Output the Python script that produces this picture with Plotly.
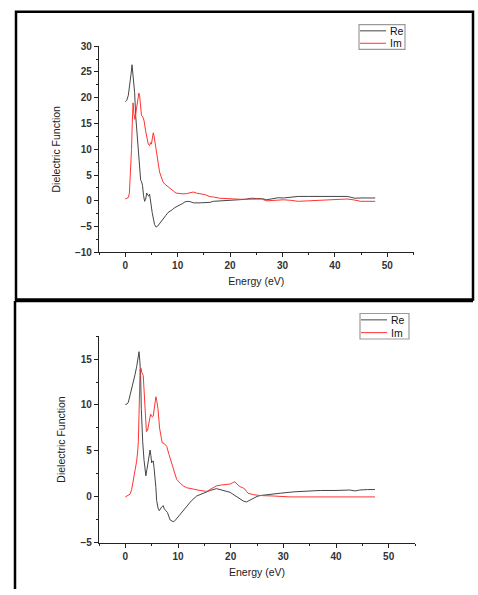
import plotly.graph_objects as go

# ---------------- data ----------------
top_re_e = [0.0, 0.3, 0.6, 0.9, 1.1, 1.3, 1.45, 1.6, 1.8, 2.0, 2.1, 2.3, 2.55, 2.75, 2.95, 3.1, 3.3, 3.5, 3.7, 3.9,
            4.1, 4.3, 4.5, 4.65, 4.8, 5.0, 5.15, 5.4, 5.6, 5.9, 6.2, 6.5, 6.9, 7.3, 7.7, 8.15, 8.5, 9.0, 9.5, 10.0,
            10.4, 11.0, 11.4, 12.0, 12.5, 13.0, 14.3, 15.5, 16.2, 16.8, 18.0, 18.7, 20.0, 21.6, 23.0, 24.1, 25.0,
            25.7, 26.2, 27.0, 28.0, 29.2, 30.2, 31.5, 33.0, 35.0, 37.0, 38.4, 40.0, 42.3, 43.0, 43.8, 45.0, 46.5, 47.7]
top_re_v = [19.2, 19.5, 20.5, 22.5, 24.5, 26.4, 25.0, 22.5, 21.0, 16.5, 15.1, 13.5, 10.4, 6.5, 4.0, 3.8, 3.0, 1.0, -0.1, 0.3,
            1.5, 1.1, 0.9, 1.3, 0.5, -1.2, -2.3, -3.8, -4.6, -5.1, -4.9, -4.5, -3.9, -3.5, -2.9, -2.3, -2.1, -1.7, -1.3, -1.05,
            -0.9, -0.5, -0.2, -0.1, -0.2, -0.4, -0.4, -0.35, -0.3, -0.1, 0.0, 0.1, 0.2, 0.2, 0.3, 0.5, 0.45,
            0.5, 0.4, 0.2, 0.35, 0.6, 0.55, 0.7, 0.85, 0.85, 0.85, 0.9, 0.85, 0.85, 0.7, 0.5, 0.55, 0.55, 0.55]

top_im_e = [0.0, 0.3, 0.6, 0.8, 1.0, 1.2, 1.35, 1.5, 1.65, 1.85, 2.1, 2.35, 2.6, 2.75, 2.9, 3.1, 3.4, 3.6, 3.9, 4.2,
            4.4, 4.65, 4.85, 5.0, 5.15, 5.35, 5.5, 5.7, 5.9, 6.1, 6.3, 6.55, 6.9, 7.2, 7.6, 8.15, 8.6, 9.2, 9.7, 10.4,
            11.0, 11.7, 12.3, 13.0, 13.6, 14.3, 15.2, 16.2, 16.8, 18.0, 19.3, 20.5, 21.9, 23.5, 25.4, 26.0, 27.0,
            28.5, 30.2, 31.5, 33.0, 35.0, 38.0, 40.5, 42.3, 43.5, 44.9, 47.7]
top_im_v = [0.35, 0.5, 0.65, 1.5, 5.0, 10.0, 15.0, 19.0, 17.0, 15.8, 17.5, 19.5, 20.9, 20.5, 18.6, 16.6, 16.2, 15.5, 13.5, 11.7,
            11.0, 10.7, 11.3, 11.0, 12.0, 13.2, 12.6, 11.0, 10.0, 8.5, 7.3, 5.6, 4.4, 3.7, 3.2, 2.7, 2.3, 1.9, 1.5, 1.4,
            1.35, 1.4, 1.5, 1.7, 1.5, 1.4, 1.2, 0.8, 0.75, 0.5, 0.4, 0.3, 0.3, 0.3, 0.35, 0.35, 0.0,
            0.1, 0.2, 0.1, -0.1, 0.0, 0.1, 0.2, 0.35, 0.2, -0.1, -0.1]

bot_re_e = [0.0, 0.3, 0.57, 0.9, 1.2, 1.5, 1.84, 2.16, 2.4, 2.6, 2.75, 2.9, 3.04, 3.2, 3.3, 3.55, 3.75, 3.9, 4.1, 4.35,
            4.55, 4.7, 4.85, 5.0, 5.15, 5.3, 5.45, 5.6, 5.8, 5.95, 6.2, 6.45, 6.7, 6.9, 7.2, 7.4, 7.7, 8.0, 8.5, 8.8,
            9.1, 9.4, 9.75, 10.3, 11.0, 11.65, 12.5, 13.55, 14.5, 16.1, 17.3, 18.0, 18.6, 19.2, 19.9, 20.4, 20.8,
            21.3, 21.8, 22.4, 23.0, 23.5, 24.0, 25.0, 25.6, 27.5, 29.4, 32.0, 34.4, 37.0, 40.0, 42.6, 43.6, 44.5,
            46.0, 47.4]
bot_re_v = [10.05, 10.1, 10.3, 11.0, 11.7, 12.5, 13.3, 14.2, 15.0, 15.8, 14.8, 13.2, 9.5, 7.0, 6.0, 4.0, 2.8, 2.3, 3.0, 4.1,
            4.9, 5.1, 4.5, 3.7, 3.9, 3.9, 3.2, 2.5, 1.0, -0.4, -1.2, -1.5, -1.2, -1.1, -0.95, -1.3, -1.5, -1.7, -2.5, -2.6,
            -2.7, -2.6, -2.35, -1.9, -1.4, -0.95, -0.45, 0.1, 0.35, 0.7, 0.9, 0.8, 0.7, 0.6, 0.5, 0.3, 0.15,
            -0.1, -0.25, -0.45, -0.55, -0.4, -0.2, 0.05, 0.15, 0.3, 0.4, 0.55, 0.65, 0.7, 0.7, 0.75, 0.65, 0.75,
            0.8, 0.8]

bot_im_e = [0.0, 0.5, 0.9, 1.2, 1.52, 1.85, 2.15, 2.35, 2.47, 2.6, 2.7, 2.8, 3.0, 3.1, 3.4, 3.55, 3.7, 3.85, 4.0, 4.2,
            4.4, 4.6, 4.8, 4.95, 5.1, 5.3, 5.5, 5.8, 5.95, 6.2, 6.5, 6.8, 7.0, 7.4, 7.85, 8.3, 8.8, 9.2, 9.75, 10.4,
            11.0, 11.65, 12.8, 14.2, 15.45, 16.3, 17.3, 18.3, 19.1, 19.9, 20.4, 20.8, 21.2, 21.5, 21.8, 22.3, 22.7,
            23.0, 23.3, 24.3, 25.6, 28.0, 31.3, 35.0, 40.0, 44.0, 47.4]
bot_im_v = [0.0, 0.15, 0.3, 0.8, 1.75, 2.8, 3.9, 5.0, 6.0, 9.0, 12.0, 13.9, 14.0, 13.6, 13.2, 11.5, 9.6, 8.0, 7.1, 7.2,
            7.8, 8.5, 9.0, 8.9, 8.7, 8.8, 9.8, 10.9, 10.5, 9.6, 7.5, 6.5, 5.9, 5.8, 5.5, 4.6, 3.7, 2.8, 1.9, 1.5,
            1.2, 1.0, 0.85, 0.7, 0.6, 0.9, 1.2, 1.3, 1.35, 1.4, 1.55, 1.65, 1.4, 1.2, 1.1, 1.0, 0.85,
            0.6, 0.4, 0.25, 0.15, 0.1, 0.0, 0.0, 0.0, 0.0, 0.0]

x_range = [-5, 55]
top_y_range = [-10, 30]
bot_y_range = [-5, 17.5]
x_title = "Energy (eV)"
y_title = "Dielectric Function"
names = ["Re", "Im"]

# ---------------- figure ----------------
W, H = 478, 595
RE_COLOR = "#454545"
IM_COLOR = "#ff3333"
colors = [RE_COLOR, IM_COLOR]
FONT = "Liberation Sans, Arial, sans-serif"

fig = go.Figure()
fig.add_trace(go.Scatter(x=top_re_e, y=top_re_v, mode="lines", name=names[0],
                         line=dict(color=RE_COLOR, width=1), xaxis="x", yaxis="y"))
fig.add_trace(go.Scatter(x=top_im_e, y=top_im_v, mode="lines", name=names[1],
                         line=dict(color=IM_COLOR, width=1), xaxis="x", yaxis="y"))
fig.add_trace(go.Scatter(x=bot_re_e, y=bot_re_v, mode="lines", name=names[0],
                         line=dict(color=RE_COLOR, width=1), xaxis="x2", yaxis="y2"))
fig.add_trace(go.Scatter(x=bot_im_e, y=bot_im_v, mode="lines", name=names[1],
                         line=dict(color=IM_COLOR, width=1), xaxis="x2", yaxis="y2"))

def px_x(p):
    return p / W

def px_y(p):
    return 1 - p / H

tickfont = dict(family=FONT, size=10, color="#333333", weight="bold")
titlefont = dict(family=FONT, size=10.5, color="#222222")

def xaxis(domain, anchor):
    return dict(domain=domain, anchor=anchor, range=x_range, showgrid=False, zeroline=False,
                showline=True, linecolor="#222222", linewidth=1.2, ticks="outside", ticklen=4,
                tickcolor="#222222", tickwidth=1, dtick=10, tick0=0, tickfont=tickfont,
                minor=dict(ticks="outside", ticklen=2, dtick=5, tickcolor="#222222"),
                title=dict(text=x_title, font=titlefont, standoff=7))

def yaxis(domain, anchor, rng, dtick):
    return dict(domain=domain, anchor=anchor, range=rng, showgrid=False, zeroline=False,
                showline=True, linecolor="#222222", linewidth=1.2, ticks="outside", ticklen=4,
                tickcolor="#222222", tickwidth=1, dtick=dtick, tick0=0, tickfont=tickfont,
                minor=dict(ticks="outside", ticklen=2, dtick=dtick / 2, tickcolor="#222222"),
                title=dict(text=y_title, font=titlefont, standoff=12))

fig.update_layout(
    width=W, height=H, margin=dict(l=0, r=0, t=0, b=0),
    paper_bgcolor="white", plot_bgcolor="white",
    xaxis=xaxis([px_x(99), px_x(413.5)], "y"),
    yaxis=yaxis([px_y(252), px_y(42)], "x", top_y_range, 5),
    xaxis2=xaxis([px_x(99), px_x(415)], "y2"),
    yaxis2=yaxis([px_y(548), px_y(337.3)], "x2", bot_y_range, 5),
    showlegend=False,
)

# compact legends (boxes in pixel positions of each panel)
legend_boxes = [(359, 20, 405, 45.3), (360, 314.3, 409, 340.3)]
for (bx0, by0, bx1, by1) in legend_boxes:
    fig.add_shape(type="rect", xref="paper", yref="paper",
                  x0=px_x(bx0), x1=px_x(bx1), y0=px_y(by1), y1=px_y(by0),
                  line=dict(color="#9a9a9a", width=1.2), fillcolor="white", layer="above")
    row_h = (by1 - by0) / 2
    for i, (nm, col) in enumerate(zip(names, colors)):
        yy = by0 + row_h * (i + 0.5)
        fig.add_shape(type="line", xref="paper", yref="paper",
                      x0=px_x(bx0 + 1), x1=px_x(bx0 + 27), y0=px_y(yy), y1=px_y(yy),
                      line=dict(color=col, width=1), layer="above")
        fig.add_annotation(xref="paper", yref="paper", x=px_x(bx0 + 29), y=px_y(yy),
                           text=nm, showarrow=False, xanchor="left", yanchor="middle",
                           font=dict(family=FONT, size=10.5, color="#111111"))

# panel frames
frame = dict(color="black", width=2.5)
fig.add_shape(type="rect", xref="paper", yref="paper",
              x0=px_x(16), x1=px_x(473), y0=px_y(300), y1=px_y(7), line=frame)
fig.add_shape(type="line", xref="paper", yref="paper",
              x0=px_x(15), x1=px_x(473), y0=px_y(301.5), y1=px_y(301.5), line=frame)
fig.add_shape(type="line", xref="paper", yref="paper",
              x0=px_x(15), x1=px_x(15), y0=px_y(301.5), y1=0, line=frame)

fig.write_html("out.html")
